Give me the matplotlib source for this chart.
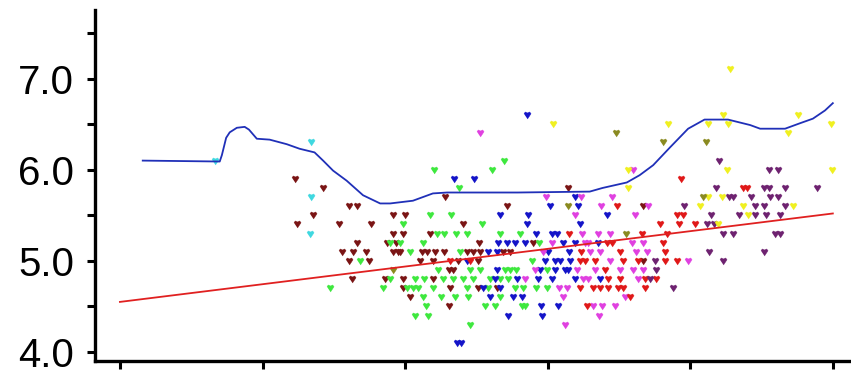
import numpy as np
import matplotlib.pyplot as plt

plt.rcParams['font.family'] = ['Liberation Sans', 'DejaVu Sans']

# ---- smoothed upper curve ----
curve_x = [3.2, 14.0, 14.3, 14.9, 15.4, 16.4, 17.5, 18.1, 19.2, 21.0, 23.4, 25.2, 27.3,
           28.5, 29.9, 31.8, 34.1, 36.5, 37.9, 41.1, 43.9, 45.9, 50.5, 55.8, 65.9, 67.7,
           71.1, 72.9, 74.8, 77.1, 79.7, 82.0, 85.3, 88.4, 89.8, 93.3, 95.4, 97.2, 98.9, 100.0]
curve_y = [6.10, 6.09, 6.16, 6.35, 6.41, 6.46, 6.47, 6.44, 6.34, 6.33, 6.28, 6.23, 6.19,
           6.10, 5.99, 5.88, 5.72, 5.63, 5.63, 5.66, 5.74, 5.75, 5.75, 5.75, 5.76, 5.80,
           5.86, 5.94, 6.05, 6.24, 6.45, 6.55, 6.55, 6.49, 6.45, 6.45, 6.51, 6.56, 6.65, 6.73]

# ---- linear trend ----
fit_x = [0, 100]
fit_y = [4.55, 5.52]

# ---- scatter groups ----
cyan_x = [13.3, 26.8, 26.8, 26.6]
cyan_y = [6.1, 6.3, 5.7, 5.3]

maroon_x = [24.5, 28.5, 32.1, 33.2, 27.1, 24.8, 30.7, 35.2, 38.3, 38.3, 33.2, 37.4, 38.7,
            31.1, 32.7, 34.5, 38.3, 39.0, 32.1, 34.9, 32.5, 37.2,
            45.6, 54.3, 40.0, 48.1, 39.7, 43.5, 50.4, 57.9, 39.3, 42.4, 43.1, 44.2, 45.4,
            48.7, 49.5, 50.5, 53.7, 54.7, 42.1, 43.9, 47.4, 50.2, 46.1, 46.7, 39.7, 43.9,
            39.7, 46.3, 50.2, 52.9, 40.7, 46.1, 62.8, 73.4, 73.4]
maroon_y = [5.9, 5.8, 5.6, 5.6, 5.5, 5.4, 5.4, 5.4, 5.5, 5.3, 5.2, 5.2, 5.2,
            5.1, 5.1, 5.1, 5.1, 5.1, 5.0, 5.0, 4.8, 4.8,
            5.7, 5.6, 5.5, 5.4, 5.3, 5.3, 5.2, 5.2, 5.1, 5.1, 5.1, 5.1, 5.1,
            5.1, 5.1, 5.1, 5.1, 5.1, 5.0, 5.0, 5.0, 5.0, 4.9, 4.9, 4.8, 4.8,
            4.7, 4.7, 4.7, 4.7, 4.6, 4.5, 5.8, 5.6, 5.0]

green_x = [37.9, 33.7, 29.5, 36.9, 37.9,
           53.9, 44.0, 52.2, 47.5, 43.5, 46.4, 39.7, 50.8, 44.5, 45.4, 47.1, 48.7, 53.3,
           56.1, 39.3, 42.5, 40.7, 47.7, 44.6, 49.1, 50.5, 54.0, 54.7, 55.5, 41.4, 42.6,
           45.3, 46.7, 48.1, 49.5, 51.9, 53.3, 54.4, 40.3, 41.1, 41.8, 43.9, 48.7, 51.6,
           55.4, 56.5, 42.5, 45.0, 47.0, 48.8, 53.3, 42.9, 51.2, 52.6, 56.4, 56.8, 41.4,
           43.2, 49.1,
           58.8, 57.8, 59.9, 58.3, 59.9]
green_y = [5.2, 5.0, 4.7, 4.7, 4.8,
           6.1, 6.0, 6.0, 5.8, 5.5, 5.5, 5.4, 5.4, 5.3, 5.3, 5.3, 5.3, 5.3,
           5.3, 5.2, 5.2, 5.1, 5.1, 4.9, 4.9, 4.9, 4.9, 4.9, 4.9, 4.8, 4.8,
           4.8, 4.8, 4.8, 4.8, 4.8, 4.8, 4.8, 4.7, 4.7, 4.7, 4.7, 4.7, 4.7,
           4.7, 4.7, 4.6, 4.6, 4.6, 4.6, 4.6, 4.5, 4.5, 4.5, 4.5, 4.5, 4.4,
           4.4, 4.3,
           5.2, 5.0, 4.9, 4.7, 4.7]

blue_x = [57.1, 46.8, 49.6, 53.3, 57.2, 57.1, 53.0, 54.3, 55.4, 56.8, 51.6, 52.9, 48.7,
          52.9, 52.6, 55.7, 50.9, 53.3, 51.9, 55.1, 56.4, 54.4, 47.3, 47.9,
          63.8, 60.3, 64.2, 68.3, 64.5, 58.3, 60.6, 61.3, 62.1, 63.8, 67.0, 60.0, 63.0,
          59.6, 61.0, 61.7, 63.1, 58.9, 61.0, 62.4, 62.8, 58.6, 60.6, 63.8, 67.3, 59.0,
          61.4, 59.2]
blue_y = [6.6, 5.9, 5.9, 5.5, 5.5, 5.4, 5.2, 5.2, 5.2, 5.2, 5.1, 5.1, 5.0,
          4.9, 4.8, 4.8, 4.7, 4.7, 4.6, 4.6, 4.6, 4.4, 4.1, 4.1,
          5.7, 5.6, 5.6, 5.5, 5.4, 5.3, 5.3, 5.3, 5.2, 5.2, 5.2, 5.1, 5.1,
          5.0, 5.0, 5.0, 5.0, 4.9, 4.9, 4.9, 4.9, 4.8, 4.8, 4.8, 4.8, 4.5,
          4.5, 4.4]

magenta_x = [50.5, 71.9, 56.8,
             59.7, 64.7, 69.0, 67.5, 74.1, 63.8, 72.2, 64.8, 67.0, 68.7, 60.6, 65.2, 65.6,
             71.8, 73.4, 59.3, 65.9, 67.3, 72.4, 73.9, 68.7, 58.2, 64.1, 66.6, 70.1, 71.9,
             73.4, 64.9, 65.6, 72.7, 61.6, 62.7, 62.1, 70.8, 66.3, 67.6, 69.4, 67.2, 62.4,
             79.7]
magenta_y = [6.4, 6.0, 4.8,
             5.7, 5.7, 5.7, 5.6, 5.6, 5.5, 5.5, 5.3, 5.3, 5.3, 5.2, 5.2, 5.2,
             5.2, 5.2, 5.1, 5.1, 5.1, 5.1, 5.1, 5.0, 4.9, 4.9, 4.9, 4.9, 4.9,
             4.9, 4.8, 4.8, 4.8, 4.7, 4.7, 4.6, 4.6, 4.5, 4.5, 4.5, 4.4, 4.3,
             5.0]

red_x = [46.3, 49.1,
         69.7, 75.7, 63.0, 73.2, 76.7, 68.3, 69.0, 76.2, 64.7, 70.1, 76.4, 64.5, 65.2,
         66.6, 70.5, 72.7, 76.4, 68.0, 68.4, 70.1, 73.6, 75.2, 64.5, 66.3, 67.3, 68.4,
         69.8, 70.5, 73.6, 71.5, 65.5,
         78.7, 87.4, 87.9, 78.1, 79.0, 78.4, 80.6, 78.1]
red_y = [5.0, 5.0,
         5.6, 5.4, 5.3, 5.3, 5.3, 5.2, 5.2, 5.2, 5.1, 5.1, 5.1, 5.0, 5.0,
         5.0, 5.0, 5.0, 5.0, 4.9, 4.8, 4.8, 4.8, 4.8, 4.7, 4.7, 4.7, 4.7,
         4.7, 4.7, 4.7, 4.6, 4.5,
         5.9, 5.8, 5.8, 5.5, 5.5, 5.4, 5.4, 5.0]

purple_x = [75.0, 75.2, 74.3,
            84.0, 91.0, 92.3, 83.6, 90.3, 91.0, 93.3, 97.8, 85.4, 86.0, 88.5, 91.2, 92.3,
            79.1, 89.1, 90.3, 93.3, 82.9, 86.8, 89.1, 90.6, 92.6, 82.3, 83.3, 84.6, 86.0,
            91.9, 92.6, 82.6, 90.3, 84.6, 77.6]
purple_y = [5.0, 4.9, 4.8,
            6.1, 6.0, 6.0, 5.8, 5.8, 5.8, 5.8, 5.8, 5.7, 5.7, 5.7, 5.7, 5.7,
            5.6, 5.6, 5.6, 5.6, 5.5, 5.5, 5.5, 5.5, 5.5, 5.4, 5.4, 5.3, 5.3,
            5.3, 5.3, 5.1, 5.1, 5.0, 4.7]

yellow_x = [60.7, 76.9, 71.2, 71.2,
            85.6, 84.6, 82.5, 85.3, 95.1, 99.7, 93.7, 85.1, 99.9, 82.5, 84.4, 81.3, 87.4,
            94.4, 88.1, 83.9]
yellow_y = [6.5, 6.5, 6.0, 5.8,
            7.1, 6.6, 6.5, 6.5, 6.6, 6.5, 6.4, 6.0, 6.0, 5.7, 5.7, 5.6, 5.6,
            5.6, 5.5, 5.4]

olive_x = [38.3, 69.6, 76.2, 82.2, 62.8, 71.0, 81.8]
olive_y = [4.9, 6.4, 6.3, 6.3, 5.6, 5.3, 5.7]

groups = [
    (cyan_x, cyan_y, '#3fd8e0'),
    (maroon_x, maroon_y, '#7a1414'),
    (green_x, green_y, '#3ee83e'),
    (blue_x, blue_y, '#1414c8'),
    (magenta_x, magenta_y, '#e040e0'),
    (red_x, red_y, '#e01818'),
    (purple_x, purple_y, '#6e2270'),
    (yellow_x, yellow_y, '#f0f020'),
    (olive_x, olive_y, '#8a8a20'),
]

# small heart-shaped point marker
heart = [(-1.0, 0.5), (-0.6, 1.0), (0.0, 0.7), (0.6, 1.0), (1.0, 0.5), (0.0, -1.0)]

fig = plt.figure(figsize=(8.51, 3.77), dpi=100)
ax = fig.add_axes([0.1116, 0.042, 0.888, 0.931])

for gx, gy, col in groups:
    ax.scatter(gx, gy, marker=heart, s=26, color=col, linewidths=0.3, edgecolors=col,
               zorder=2)

ax.plot(curve_x, curve_y, color='#2030b8', lw=1.3, zorder=3)
ax.plot(fit_x, fit_y, color='#e02020', lw=1.3, zorder=3)

ax.set_xlim(-3.5, 102.5)
ax.set_ylim(3.9, 7.75)
ax.set_xticks([0, 20, 40, 60, 80, 100])
ax.set_xticklabels([])
ax.set_yticks([4.0, 5.0, 6.0, 7.0])
ax.set_yticklabels(['4.0', '5.0', '6.0', '7.0'])
ax.set_yticks([4.5, 5.5, 6.5, 7.5], minor=True)

for side in ['top', 'right']:
    ax.spines[side].set_visible(False)
for side in ['left', 'bottom']:
    ax.spines[side].set_linewidth(2.4)

ax.tick_params(axis='both', which='both', direction='out', length=6, width=2.2,
               color='black')
ax.tick_params(axis='y', labelsize=29, pad=9)

fig.savefig('out.png', dpi=100)
